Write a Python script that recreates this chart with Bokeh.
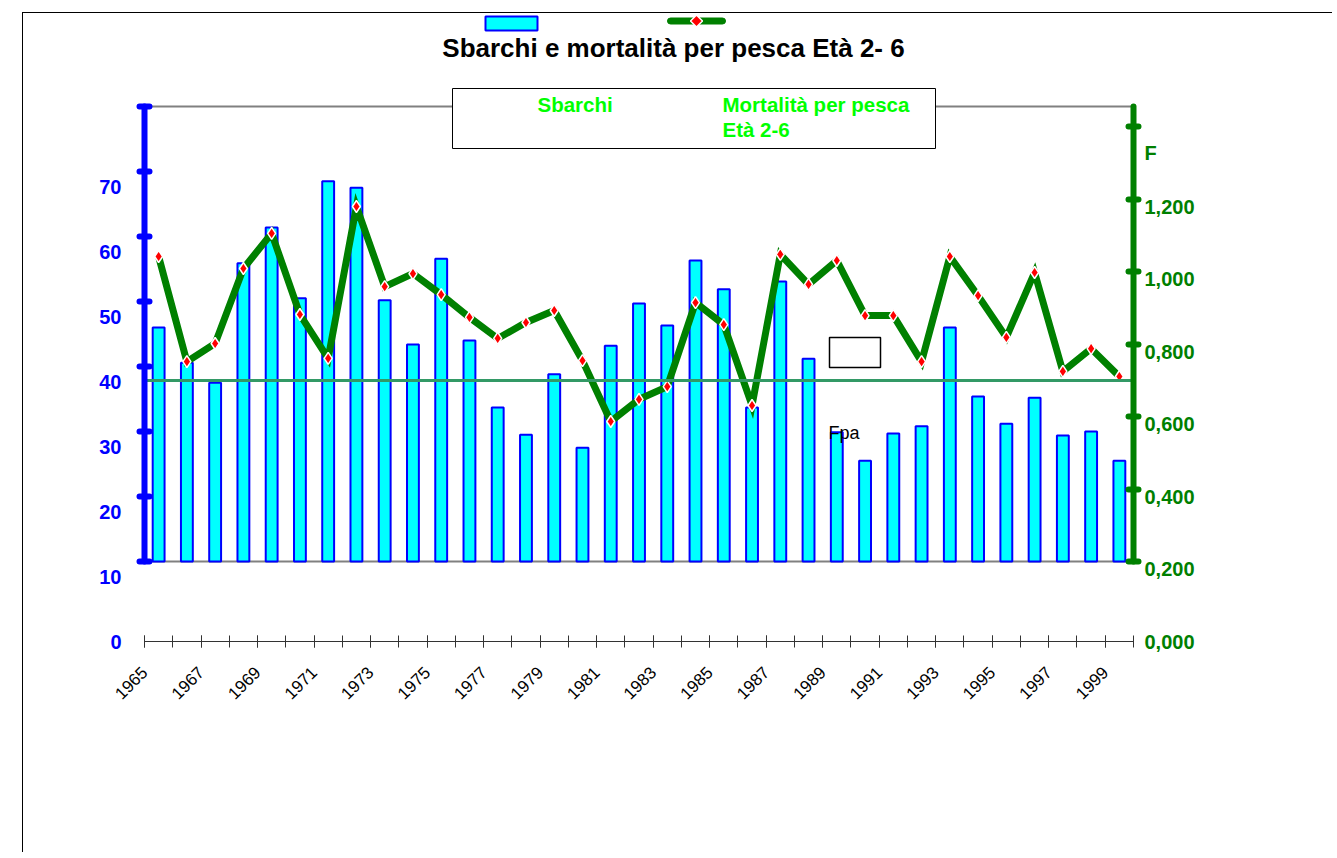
import math
from bokeh.plotting import figure
from bokeh.models import (Range1d, LinearAxis, FixedTicker, Span, Label,
                          BoxAnnotation, PolyAnnotation, CustomJSTickFormatter)
from bokeh.embed import file_html
from bokeh.resources import INLINE

# ---------------- data ----------------
years = list(range(1965, 2000))
sbarchi = [48.3, 42.9, 39.8, 58.2, 63.7, 52.8, 70.8, 69.8, 52.5, 45.7,
           58.9, 46.3, 36.0, 31.8, 41.1, 29.8, 45.5, 52.0, 48.6, 58.6,
           54.2, 36.0, 55.4, 43.5, 32.2, 27.8, 32.0, 33.1, 48.3, 37.7,
           33.5, 37.5, 31.7, 32.3, 27.8]
mortalita = [1.062, 0.772, 0.822, 1.029, 1.126, 0.902, 0.781, 1.200, 0.979, 1.015,
             0.957, 0.894, 0.836, 0.880, 0.913, 0.775, 0.607, 0.668, 0.703, 0.935,
             0.874, 0.651, 1.068, 0.985, 1.051, 0.899, 0.899, 0.772, 1.062, 0.954,
             0.839, 1.018, 0.745, 0.808, 0.731]
fpa = 0.72
left_ticks = [0, 10, 20, 30, 40, 50, 60, 70]
right_ticks = [0, 0.2, 0.4, 0.6, 0.8, 1.0, 1.2]
label_years = [y for y in years if (y - 1965) % 2 == 0]

title_text = "Sbarchi e mortalità per pesca Età 2- 6"
leg1 = "Sbarchi"
leg2a = "Mortalità per pesca"
leg2b = "Età 2-6"
f_label = "F"
fpa_label = "Fpa"

# ---------------- layout (page pixels) ----------------
OX, OY = 23, 13                 # canvas origin on the page (after margin+border)
FL, FR, FT, FB = 144, 1133, 14, 641
N = len(years)
PX_L = 6.5                      # px per left-axis unit
PX_F = 362.5                    # px per F unit
Y_TOP = (FB - FT) / PX_L
F_TOP = (FB - FT) / PX_F
BASE = (FB - 561) / PX_L        # bar baseline (gray line)
BASE_F = (FB - 561) / PX_F
AX_TOP = (FB - 106) / PX_L
AX_TOP_F = (FB - 106) / PX_F
TXT_DY = 8                      # label baseline correction


def X(px):
    return (px - FL) / (FR - FL) * N


def Y(py):
    return (FB - py) / PX_L


def YT(py):
    return Y(py - TXT_DY)


FONT = "Liberation Sans"
BLUE = "#0000FF"
GREEN = "#008000"
LIME = "#00FF00"

W, H = 1310, 840
p = figure(width=W, height=H, output_backend="svg", toolbar_location=None,
           x_range=Range1d(0, N), y_range=Range1d(0, Y_TOP),
           y_axis_location=None,
           min_border_left=FL - OX, min_border_top=FT - OY,
           min_border_right=W - (FR - OX), min_border_bottom=H - (FB - OY))
p.styles = {"margin-left": "22px", "margin-top": "12px",
            "border-left": "1px solid black", "border-top": "1px solid black"}
p.extra_y_ranges = {"F": Range1d(0, F_TOP)}
p.outline_line_color = None
p.xgrid.visible = False
p.ygrid.visible = False
p.background_fill_color = "white"
p.border_fill_color = "white"

# ---- x axis (labels every other year, ticks every year boundary) ----
xa = p.xaxis[0]
major_x = [years.index(y) for y in label_years]
xa.ticker = FixedTicker(ticks=major_x, minor_ticks=list(range(N + 1)))
xa.major_label_overrides = {years.index(y): str(y) for y in label_years}
xa.major_label_orientation = math.pi / 4
xa.major_label_text_font = FONT
xa.major_label_text_font_size = "17px"
xa.major_label_text_color = "black"
xa.major_label_standoff = 22
xa.axis_line_color = "#333333"
xa.axis_line_width = 1
xa.major_tick_line_color = "#333333"
xa.major_tick_in = 6
xa.major_tick_out = 6
xa.minor_tick_line_color = "#333333"
xa.minor_tick_in = 6
xa.minor_tick_out = 6

# ---- left thick blue axis (line + pill ticks, no labels) ----
blue_pills = [BASE + 10 * k for k in range(8)]
ax_b = LinearAxis(ticker=FixedTicker(ticks=[], minor_ticks=blue_pills),
                  bounds=(blue_pills[0], blue_pills[-1]),
                  axis_line_color=BLUE, axis_line_width=6, axis_line_cap="round",
                  major_tick_line_color=None,
                  minor_tick_line_color=BLUE, minor_tick_line_width=6,
                  minor_tick_line_cap="round", minor_tick_in=5, minor_tick_out=5)
p.add_layout(ax_b, "left")

ax_l = LinearAxis(ticker=FixedTicker(ticks=left_ticks, minor_ticks=[]),
                  axis_line_color=None, major_tick_line_color=None,
                  minor_tick_line_color=None, major_tick_in=0, major_tick_out=0,
                  major_label_text_font=FONT, major_label_text_font_size="20px",
                  major_label_text_font_style="bold", major_label_text_color=BLUE,
                  major_label_standoff=18)
p.add_layout(ax_l, "left")

# ---- right thick green axis ----
green_pills = [BASE_F + 0.2 * k for k in range(7)]
ax_g = LinearAxis(y_range_name="F",
                  ticker=FixedTicker(ticks=[], minor_ticks=green_pills),
                  bounds=(green_pills[0], AX_TOP_F),
                  axis_line_color=GREEN, axis_line_width=6, axis_line_cap="round",
                  major_tick_line_color=None,
                  minor_tick_line_color=GREEN, minor_tick_line_width=6,
                  minor_tick_line_cap="round", minor_tick_in=5, minor_tick_out=5)
p.add_layout(ax_g, "right")

F_POS = (FB - 152) / PX_F
ax_r = LinearAxis(y_range_name="F",
                  ticker=FixedTicker(ticks=right_ticks + [F_POS], minor_ticks=[]),
                  formatter=CustomJSTickFormatter(
                      code="return tick.toFixed(3).replace('.', ',');"),
                  axis_line_color=None, major_tick_line_color=None,
                  minor_tick_line_color=None, major_tick_in=0, major_tick_out=0,
                  major_label_text_font=FONT, major_label_text_font_size="20px",
                  major_label_text_font_style="bold", major_label_text_color=GREEN,
                  major_label_standoff=6)
ax_r.major_label_overrides = {F_POS: f_label}
p.add_layout(ax_r, "right")

# ---- gray frame lines ----
for loc in (BASE, AX_TOP):
    p.add_layout(Span(location=loc, dimension="width", line_color="#808080",
                      line_width=2, level="underlay"))

# ---- bars ----
xs = [i + 0.5 for i in range(N)]
p.vbar(x=xs, top=sbarchi, bottom=BASE, width=0.42, fill_color="#00FFFF",
       line_color=BLUE, line_width=2)

# ---- Fpa line ----
p.add_layout(Span(location=fpa, y_range_name="F", dimension="width",
                  line_color="#339966", line_width=3, level="glyph"))

# ---- mortality line ----
p.line(xs, mortalita, y_range_name="F", line_color=GREEN, line_width=7,
       line_join="miter")
p.scatter(xs, mortalita, y_range_name="F", marker="diamond", size=12,
          fill_color="#FF0000", line_color="white", line_width=1.5)

# ---- small empty box and Fpa label ----
p.add_layout(BoxAnnotation(left=X(829), right=X(880), top=Y(337), bottom=Y(367),
                           fill_color="white", fill_alpha=1, line_color="black",
                           line_width=1.5, line_alpha=1))
p.add_layout(Label(x=X(828), y=YT(440), text=fpa_label, text_font=FONT,
                   text_font_size="18px", text_color="black",
                   text_baseline="alphabetic"))

# ---- legend box ----
p.add_layout(BoxAnnotation(left=X(452), right=X(935), top=Y(88), bottom=Y(148),
                           fill_color="white", fill_alpha=1, line_color="black",
                           line_width=1, line_alpha=1))
for txt, px, py in ((leg1, 537, 112), (leg2a, 722, 112), (leg2b, 722, 137)):
    p.add_layout(Label(x=X(px), y=YT(py), text=txt, text_font=FONT,
                       text_font_size="20.5px", text_font_style="bold",
                       text_color=LIME, text_baseline="alphabetic"))

# ---- legend keys at the top ----
p.add_layout(BoxAnnotation(left=X(485), right=X(537), top=Y(16), bottom=Y(30),
                           fill_color="#00FFFF", fill_alpha=1, line_color=BLUE,
                           line_width=2, line_alpha=1))
p.add_layout(BoxAnnotation(left=X(667), right=X(725), top=Y(17.5), bottom=Y(23.5),
                           fill_color=GREEN, fill_alpha=1, line_color=GREEN,
                           line_alpha=1, border_radius=3))
cx, cy, d = 696, 20.5, 6
p.add_layout(PolyAnnotation(xs=[X(cx - d), X(cx), X(cx + d), X(cx)],
                            ys=[Y(cy), Y(cy - d), Y(cy), Y(cy + d)],
                            fill_color="#FF0000", fill_alpha=1, line_color="white",
                            line_width=1.5, line_alpha=1))

# ---- title ----
p.add_layout(Label(x=X(673), y=YT(55), text=title_text, text_font=FONT,
                   text_font_size="26px", text_font_style="bold",
                   text_color="black", text_align="center",
                   text_baseline="alphabetic"))

with open("out.html", "w", encoding="utf-8") as f:
    f.write(file_html(p, INLINE))
